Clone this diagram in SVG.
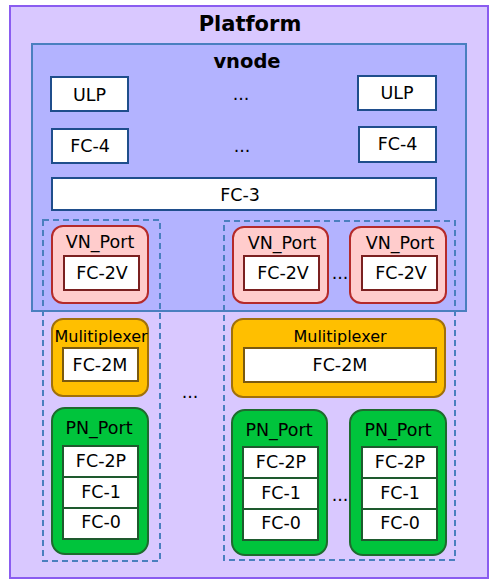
<svg xmlns="http://www.w3.org/2000/svg" width="500" height="587" viewBox="0 0 500 587">
<style>
text{font-family:"DejaVu Sans",sans-serif;font-size:17.5px;fill:#000;text-anchor:middle;dominant-baseline:central}
.title{font-weight:bold;font-size:21px}
.sub{font-weight:bold;font-size:19.5px}
.mux{font-size:16px}
.box{fill:#fff;stroke:#1f4e8c;stroke-width:2}
.vn{fill:#ffcccc;stroke:#b52a2a;stroke-width:2}
.vnin{fill:#fff;stroke:#7a2020;stroke-width:2}
.mx{fill:#ffbf00;stroke:#a0700a;stroke-width:2}
.mxin{fill:#fff;stroke:#7a5a10;stroke-width:2}
.pn{fill:#00c43c;stroke:#1e6a2e;stroke-width:2}
.pnin{fill:#fff;stroke:#1e5a2e;stroke-width:2}
.dash{fill:none;stroke:#4a7fbf;stroke-width:2;stroke-dasharray:6 4}
</style>
<g id="platform">
<rect x="10" y="6" width="478" height="572" fill="#d9c8ff" stroke="#8a5cf0" stroke-width="2"/>
<text class="title" x="250" y="24">Platform</text>
</g>
<g id="vnode">
<rect x="32" y="44" width="434" height="267" fill="#b3b3ff" stroke="#4a7fbf" stroke-width="2"/>
<text class="sub" x="247" y="61">vnode</text>
</g>
<g id="ulp1"><rect class="box" x="51" y="77" width="77" height="34"/><text x="89.5" y="95">ULP</text></g>
<g id="ulp2"><rect class="box" x="358" y="76" width="78" height="34"/><text x="397" y="93">ULP</text></g>
<text x="241" y="94">...</text>
<g id="fc4a"><rect class="box" x="52" y="129" width="76" height="34"/><text x="90" y="146">FC-4</text></g>
<g id="fc4b"><rect class="box" x="359" y="127" width="77" height="35"/><text x="397.5" y="144">FC-4</text></g>
<text x="242" y="146">...</text>
<g id="fc3"><rect class="box" x="52" y="178" width="384" height="32"/><text x="240" y="195">FC-3</text></g>
<g id="groups">
<rect class="dash" x="43" y="220" width="117" height="341"/>
<rect class="dash" x="224" y="221" width="231" height="339"/>
</g>
<g id="vn1"><rect class="vn" x="52" y="226" width="96" height="77" rx="11"/><text x="100" y="242">VN_Port</text><rect class="vnin" x="64" y="256" width="75" height="34"/><text x="102" y="273">FC-2V</text></g>
<g id="vn2"><rect class="vn" x="233" y="227" width="95" height="76" rx="11"/><text x="282" y="243">VN_Port</text><rect class="vnin" x="244" y="256" width="75" height="34"/><text x="283" y="273">FC-2V</text></g>
<text x="340" y="273">...</text>
<g id="vn3"><rect class="vn" x="350" y="227" width="96" height="76" rx="11"/><text x="400" y="243">VN_Port</text><rect class="vnin" x="362" y="256" width="75" height="34"/><text x="401" y="273">FC-2V</text></g>
<g id="mux1"><rect class="mx" x="52" y="319" width="96" height="77" rx="11"/><text class="mux" x="101" y="336">Mulitiplexer</text><rect class="mxin" x="63" y="348" width="75" height="33"/><text x="100" y="365">FC-2M</text></g>
<g id="mux2"><rect class="mx" x="232" y="319" width="213" height="78" rx="11"/><text class="mux" x="340" y="336">Mulitiplexer</text><rect class="mxin" x="244" y="348" width="192" height="34"/><text x="340" y="365">FC-2M</text></g>
<text x="190" y="392">...</text>
<g id="pn1"><rect class="pn" x="52" y="408" width="96" height="146" rx="13"/><text x="99" y="428">PN_Port</text>
<rect class="pnin" x="63" y="446" width="75" height="31"/><text x="101" y="461">FC-2P</text>
<rect class="pnin" x="63" y="477" width="75" height="31"/><text x="101" y="492">FC-1</text>
<rect class="pnin" x="63" y="508" width="75" height="31"/><text x="101" y="522">FC-0</text></g>
<g id="pn2"><rect class="pn" x="232" y="410" width="95" height="145" rx="13"/><text x="279" y="430">PN_Port</text>
<rect class="pnin" x="243" y="447" width="75" height="31"/><text x="281" y="462">FC-2P</text>
<rect class="pnin" x="243" y="478" width="75" height="31"/><text x="281" y="493">FC-1</text>
<rect class="pnin" x="243" y="509" width="75" height="31"/><text x="281" y="523">FC-0</text></g>
<text x="340" y="495">...</text>
<g id="pn3"><rect class="pn" x="350" y="410" width="96" height="145" rx="13"/><text x="398" y="430">PN_Port</text>
<rect class="pnin" x="362" y="447" width="75" height="31"/><text x="400" y="462">FC-2P</text>
<rect class="pnin" x="362" y="478" width="75" height="31"/><text x="400" y="493">FC-1</text>
<rect class="pnin" x="362" y="509" width="75" height="31"/><text x="400" y="523">FC-0</text></g>
</svg>
